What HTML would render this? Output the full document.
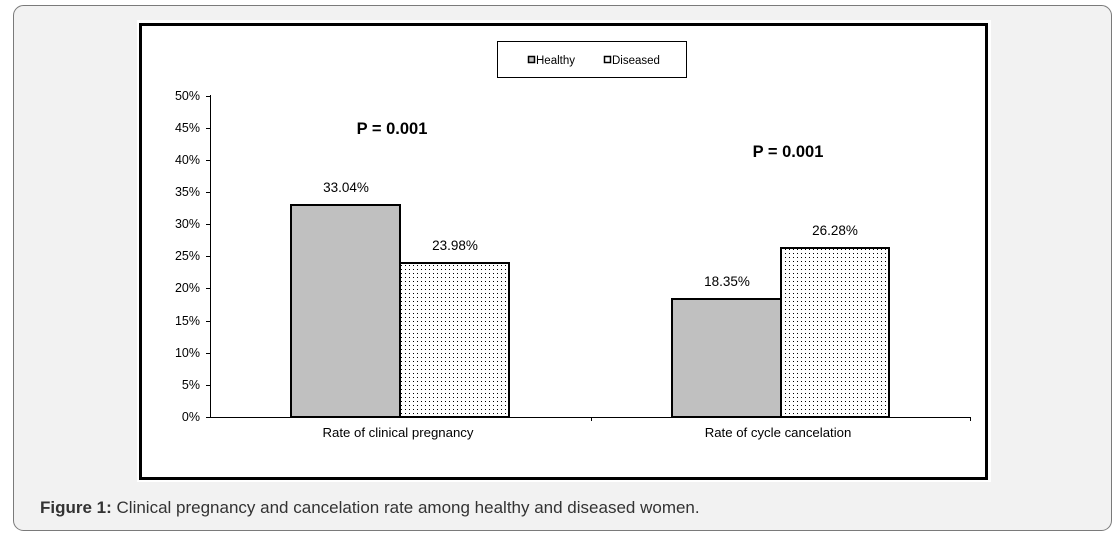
<!DOCTYPE html>
<html><head><style>
body{margin:0;width:1119px;height:538px;background:#fff;overflow:hidden;font-family:"Liberation Sans",Arial,sans-serif;}
</style></head><body>
<svg width="1119" height="538" xmlns="http://www.w3.org/2000/svg" font-family="Liberation Sans, Arial, sans-serif">
<defs>
<pattern id="dots" width="4" height="4" patternUnits="userSpaceOnUse">
<rect width="4" height="4" fill="#fff"/><rect x="1" y="1" width="1" height="1" fill="#000"/>
</pattern>
</defs>
<rect x="13.5" y="5.5" width="1098" height="525" rx="10" fill="#f2f2f2" stroke="#7a7a7a"/>
<rect x="137" y="20" width="854" height="462" fill="#fff"/>
<rect x="140.5" y="24.5" width="846" height="454" fill="none" stroke="#000" stroke-width="3"/>
<!-- legend -->
<rect x="497.5" y="41.5" width="189" height="36" fill="#fff" stroke="#000"/>
<rect x="528.5" y="56.5" width="6" height="6" fill="#c0c0c0" stroke="#000" stroke-width="1.5"/>
<text x="536" y="64" font-size="11.5">Healthy</text>
<rect x="604.5" y="56.5" width="6" height="6" fill="#fff" stroke="#000" stroke-width="1.5"/>
<text x="612" y="64" font-size="11.5">Diseased</text>
<!-- axes -->
<g stroke="#000" stroke-width="1">
<line x1="210.5" y1="95" x2="210.5" y2="417"/>
<line x1="210" y1="417.5" x2="971" y2="417.5"/>
<line x1="206" y1="96.5" x2="210" y2="96.5"/><line x1="206" y1="128.5" x2="210" y2="128.5"/>
<line x1="206" y1="160.5" x2="210" y2="160.5"/><line x1="206" y1="192.5" x2="210" y2="192.5"/>
<line x1="206" y1="224.5" x2="210" y2="224.5"/><line x1="206" y1="256.5" x2="210" y2="256.5"/>
<line x1="206" y1="288.5" x2="210" y2="288.5"/><line x1="206" y1="321.5" x2="210" y2="321.5"/>
<line x1="206" y1="353.5" x2="210" y2="353.5"/><line x1="206" y1="385.5" x2="210" y2="385.5"/>
<line x1="206" y1="417.5" x2="210" y2="417.5"/>
<line x1="591.5" y1="417" x2="591.5" y2="421"/><line x1="970.5" y1="417" x2="970.5" y2="421"/>
</g>
<g font-size="12.5" text-anchor="end" fill="#000">
<text x="200" y="100">50%</text><text x="200" y="132">45%</text><text x="200" y="164">40%</text>
<text x="200" y="196">35%</text><text x="200" y="228">30%</text><text x="200" y="260">25%</text>
<text x="200" y="292">20%</text><text x="200" y="325">15%</text><text x="200" y="357">10%</text>
<text x="200" y="389">5%</text><text x="200" y="421">0%</text>
</g>
<!-- bars -->
<g stroke="#000" stroke-width="2">
<rect x="291" y="205" width="109" height="212" fill="#c0c0c0"/>
<rect x="400" y="263" width="109" height="154" fill="url(#dots)"/>
<rect x="672" y="299" width="109" height="118" fill="#c0c0c0"/>
<rect x="781" y="248" width="108" height="169" fill="url(#dots)"/>
</g>
<g font-size="13.5" text-anchor="middle">
<text x="346" y="192">33.04%</text>
<text x="455" y="250">23.98%</text>
<text x="727" y="286">18.35%</text>
<text x="835" y="235">26.28%</text>
</g>
<g font-size="13.2" text-anchor="middle">
<text x="398" y="437">Rate of clinical pregnancy</text>
<text x="778" y="437">Rate of cycle cancelation</text>
</g>
<g font-size="16.5" font-weight="bold" text-anchor="middle">
<text x="392" y="134">P = 0.001</text>
<text x="788" y="157">P = 0.001</text>
</g>
<text x="40" y="513" font-size="17" fill="#333"><tspan font-weight="bold">Figure 1:</tspan> Clinical pregnancy and cancelation rate among healthy and diseased women.</text>
</svg>
</body></html>
